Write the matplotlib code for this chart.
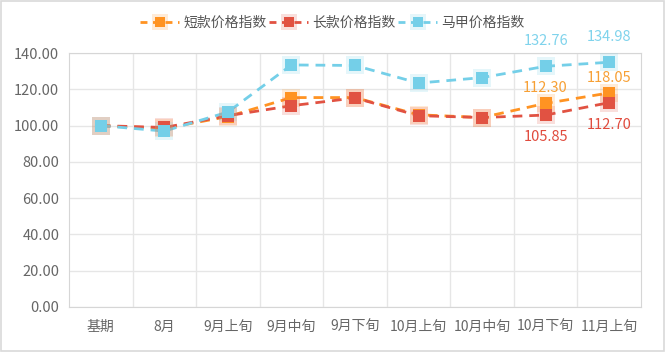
import matplotlib.pyplot as plt
from matplotlib.lines import Line2D
from matplotlib.legend_handler import HandlerTuple
from matplotlib.patches import Rectangle

plt.rcParams['font.family'] = ['Noto Sans CJK SC', 'DejaVu Sans']

categories = ['基期', '8月', '9月上旬', '9月中旬', '9月下旬', '10月上旬', '10月中旬', '10月下旬', '11月上旬']
short_idx = [100.0, 98.5, 105.0, 115.5, 115.5, 106.0, 104.5, 112.30, 118.05]
long_idx = [100.0, 99.0, 105.5, 111.0, 115.3, 105.5, 104.5, 105.85, 112.70]
vest_idx = [100.0, 97.0, 107.5, 133.5, 133.2, 123.5, 126.5, 132.76, 134.98]
names = ['短款价格指数', '长款价格指数', '马甲价格指数']
colors = ['#FF9322', '#E15242', '#74CFE8']
label_colors = ['#F7A035', '#E04B3D', '#7FD3EC']

fig = plt.figure(figsize=(6.65, 3.52), dpi=100)
ax = fig.add_axes([0.1038, 0.128, 0.860, 0.721])
fig.patches.append(Rectangle((0.001, 0.002), 0.997, 0.995, transform=fig.transFigure,
                             fill=False, edgecolor='#d9d9d9', linewidth=1.2))

x = list(range(len(categories)))
series = [short_idx, long_idx, vest_idx]
for vals, c in zip(series, colors):
    ax.plot(x, vals, linestyle=(0, (3.5, 2.5)), color=c, linewidth=2, zorder=3)
    ax.plot(x, vals, linestyle='none', marker='s', markersize=13, color=c, alpha=0.18, markeredgewidth=0, zorder=4)
    ax.plot(x, vals, linestyle='none', marker='s', markersize=8, color=c, markeredgewidth=0, zorder=5)

# last two value labels
for i in (7, 8):
    ax.annotate(f'{vest_idx[i]:.2f}', (i, vest_idx[i]), xytext=(0, 13), textcoords='offset points',
                ha='center', va='bottom', color=label_colors[2], fontsize=10.5)
    ax.annotate(f'{short_idx[i]:.2f}', (i, short_idx[i]), xytext=(0, 6), textcoords='offset points',
                ha='center', va='bottom', color=label_colors[0], fontsize=10.5)
    ax.annotate(f'{long_idx[i]:.2f}', (i, long_idx[i]), xytext=(0, -11), textcoords='offset points',
                ha='center', va='top', color=label_colors[1], fontsize=10.5)

ax.set_xlim(-0.5, len(categories) - 0.5)
ax.set_ylim(0, 140)
ax.set_yticks(range(0, 141, 20))
ax.set_yticklabels([f'{v:.2f}' for v in range(0, 141, 20)])
ax.set_xticks(x)
ax.set_xticklabels(categories)
ax.set_xticks([i + 0.5 for i in x[:-1]], minor=True)
ax.grid(True, which='major', axis='y', color='#e6e6e6', linewidth=1)
ax.grid(True, which='minor', axis='x', color='#e6e6e6', linewidth=1)
ax.tick_params(which='both', length=0, colors='#666666', labelsize=10)
ax.tick_params(axis='x', pad=9)
ax.tick_params(axis='y', labelsize=10.5, pad=7)
for s in ax.spines.values():
    s.set_color('#d6d6d6')

handles = []
for c in colors:
    halo = Line2D([], [], linestyle='none', marker='s', markersize=12, color=c, alpha=0.18, markeredgewidth=0)
    core = Line2D([], [], linestyle=(0, (2.5, 2)), color=c, linewidth=2, marker='s', markersize=7, markeredgewidth=0)
    handles.append((halo, core))
fig.legend(handles, names, handler_map={tuple: HandlerTuple(ndivide=1, pad=0)},
           loc='upper center', bbox_to_anchor=(0.5, 0.99), ncol=3, frameon=False,
           fontsize=10, labelcolor='#555555', handlelength=2.8, columnspacing=0.2, handletextpad=0.3)

fig.savefig('out.png', dpi=100)
